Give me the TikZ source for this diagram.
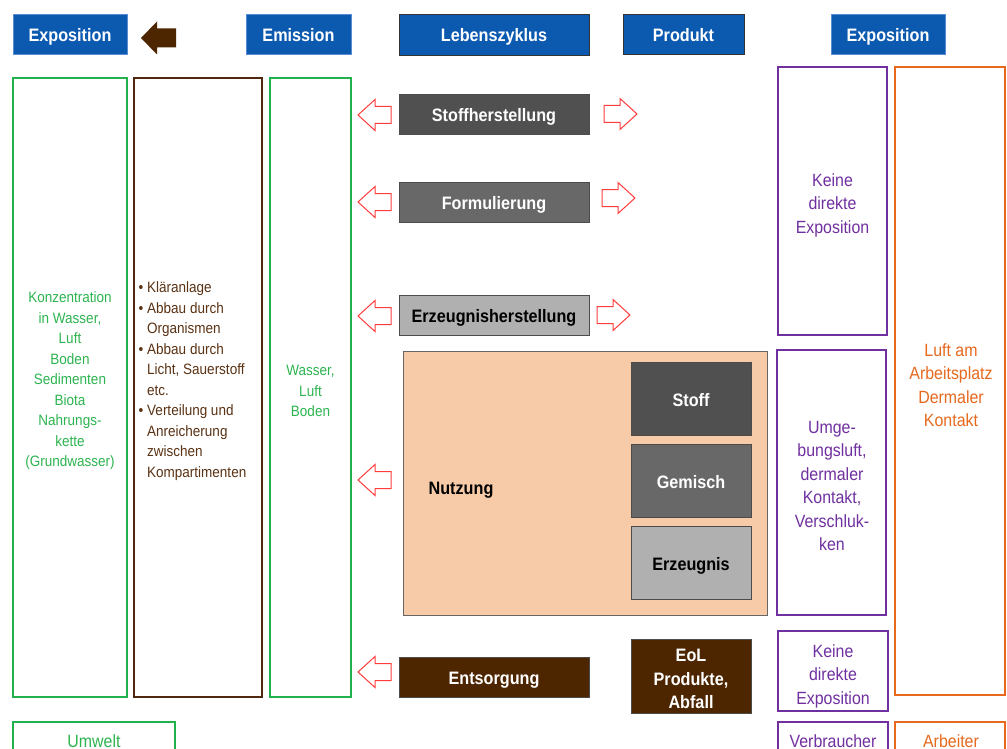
\documentclass[tikz,border=0pt]{standalone}
\usepackage{fontspec}
\setmainfont{Liberation Sans}[FakeStretch=0.9]
\definecolor{hblue}{RGB}{12,90,176}
\definecolor{hbord}{RGB}{90,140,210}
\definecolor{gline}{RGB}{34,177,76}
\definecolor{gtext}{RGB}{45,180,80}
\definecolor{bline}{RGB}{80,40,15}
\definecolor{btext}{RGB}{90,50,20}
\definecolor{pline}{RGB}{112,48,160}
\definecolor{oline}{RGB}{230,105,30}
\definecolor{peach}{RGB}{248,203,168}
\definecolor{gdark}{RGB}{80,80,80}
\definecolor{gmid}{RGB}{104,104,104}
\definecolor{glight}{RGB}{176,176,176}
\definecolor{bfill}{RGB}{77,38,0}
\definecolor{arrred}{RGB}{255,60,60}
\newcommand{\boldf}{\fontsize{18}{23.5}\selectfont\bfseries}
\newcommand{\bigf}{\fontsize{17.7}{23.5}\selectfont}
\newcommand{\smallf}{\fontsize{15}{20.5}\selectfont}
\tikzset{
  every node/.style={inner sep=0pt, outer sep=0pt},
  one/.style={text height=15pt, text depth=0pt},
  hdr/.style={rectangle, fill=hblue, draw=hbord, line width=0.8pt, text=white, font=\boldf, one},
  hdrd/.style={hdr, draw=black!80},
  frame/.style={rectangle, line width=2.5pt, fill=none},
  lcbox/.style={rectangle, draw=black!70, line width=0.8pt, font=\boldf, align=center},
  larrow/.pic={\draw[arrred, line width=1pt] (0,0) -- (17,15.5) -- (17,8.5) -- (33,8.5) -- (33,-8.5) -- (17,-8.5) -- (17,-15.5) -- cycle;},
  rarrow/.pic={\draw[arrred, line width=1pt] (0,0) -- (-17,15.5) -- (-17,8.5) -- (-33,8.5) -- (-33,-8.5) -- (-17,-8.5) -- (-17,-15.5) -- cycle;}
}
\begin{document}
\begin{tikzpicture}[x=1pt,y=-1pt]
\useasboundingbox (0,0) rectangle (1007,749);
\fill[white] (0,0) rectangle (1007,749);
% headers
\node[hdr, minimum width=114pt, minimum height=40pt] (hexl) at (70,34) {Exposition};
\node[hdr, minimum width=105pt, minimum height=40pt] (hem) at (298.5,34) {Emission};
\node[hdrd, minimum width=190pt, minimum height=41pt] (hleb) at (494,34.5) {Lebenszyklus};
\node[hdrd, minimum width=121pt, minimum height=40pt] (hprod) at (683.5,34) {Produkt};
\node[hdr, minimum width=114pt, minimum height=40pt] (hexr) at (888,34) {Exposition};
\fill[bfill] (141,38) -- (157,21.5) -- (157,28.5) -- (176,28.5) -- (176,47.5) -- (157,47.5) -- (157,54.5) -- cycle;
% left columns
\node[frame, draw=gline, minimum width=114pt, minimum height=619pt] (g1) at (70,387.5) {};
\node[frame, draw=bline, minimum width=128pt, minimum height=619pt] (g2) at (198,387.5) {};
\node[frame, draw=gline, minimum width=81pt, minimum height=619pt] (g3) at (310.5,387.5) {};
\node[text=gtext, font=\smallf, align=center] (g1t) at (70,381) {Konzentration\\in Wasser,\\Luft\\Boden\\Sedimenten\\Biota\\Nahrungs-\\kette\\(Grundwasser)};
\node[text=btext, font=\smallf, anchor=west] (g2t) at (138.5,381) {\begin{tabular}{@{}l@{\hspace{4pt}}l@{}}
\textbullet & Kläranlage\\
\textbullet & Abbau durch\\
 & Organismen\\
\textbullet & Abbau durch\\
 & Licht, Sauerstoff\\
 & etc.\\
\textbullet & Verteilung und\\
 & Anreicherung\\
 & zwischen\\
 & Kompartimenten
\end{tabular}};
\node[text=gtext, font=\smallf, align=center] (g3t) at (310.5,391) {Wasser,\\Luft\\Boden};
\node[frame, draw=gline, minimum width=162pt, minimum height=38pt] (umw) at (94,741) {};
\node[text=gtext, font=\bigf, anchor=base] (umwt) at (94,747) {Umwelt};
% life cycle
\node[lcbox, one, fill=gdark, text=white, minimum width=190pt, minimum height=40pt] (stoff) at (494,114) {Stoffherstellung};
\node[lcbox, one, fill=gmid, text=white, minimum width=190pt, minimum height=40pt] (form) at (494,202) {Formulierung};
\node[lcbox, one, fill=glight, text=black, minimum width=190pt, minimum height=40pt] (erz) at (494,315) {Erzeugnisherstellung};
\node[lcbox, fill=peach, draw=black!60, minimum width=364pt, minimum height=264pt] (nutz) at (585,483) {};
\node[font=\boldf, anchor=base] (nutzt) at (461,494) {Nutzung};
\node[lcbox, one, fill=gdark, text=white, minimum width=120pt, minimum height=73pt] (stoffi) at (691,398.5) {Stoff};
\node[lcbox, one, fill=gmid, text=white, minimum width=120pt, minimum height=73pt] (gem) at (691,480.5) {Gemisch};
\node[lcbox, one, fill=glight, text=black, minimum width=120pt, minimum height=73pt] (erzi) at (691,562.5) {Erzeugnis};
\node[lcbox, one, fill=bfill, text=white, minimum width=190pt, minimum height=40pt] (ents) at (494,677) {Entsorgung};
\node[lcbox, fill=bfill, minimum width=120pt, minimum height=74pt] (eol) at (691,676) {};
\node[font=\boldf, text=white, align=center] (eolt) at (691,679) {EoL\\Produkte,\\Abfall};
% arrows
\pic at (358,115) {larrow};
\pic at (358,202) {larrow};
\pic at (358,316) {larrow};
\pic at (358,480) {larrow};
\pic at (358,672) {larrow};
\pic at (637,114) {rarrow};
\pic at (635,198) {rarrow};
\pic at (630,315) {rarrow};
% right columns
\node[frame, draw=pline, minimum width=109pt, minimum height=268pt] (p1) at (832.5,201) {};
\node[text=pline, font=\bigf, align=center] (p1t) at (832.5,205) {Keine\\direkte\\Exposition};
\node[frame, draw=pline, minimum width=109pt, minimum height=265pt] (p2) at (831.5,482.5) {};
\node[text=pline, font=\bigf, align=center] (p2t) at (832,486) {Umge-\\bungsluft,\\dermaler\\Kontakt,\\Verschluk-\\ken};
\node[frame, draw=pline, minimum width=110pt, minimum height=80pt] (p3) at (833,671) {};
\node[text=pline, font=\bigf, align=center] (p3t) at (833,676) {Keine\\direkte\\Exposition};
\node[frame, draw=pline, minimum width=110pt, minimum height=38pt] (verb) at (833,741) {};
\node[text=pline, font=\bigf, anchor=base] (verbt) at (833,747) {Verbraucher};
\node[frame, draw=oline, minimum width=110pt, minimum height=628pt] (o1) at (950,381) {};
\node[text=oline, font=\bigf, align=center] (o1t) at (951,385) {Luft am\\Arbeitsplatz\\Dermaler\\Kontakt};
\node[frame, draw=oline, minimum width=110pt, minimum height=38pt] (arb) at (950,741) {};
\node[text=oline, font=\bigf, anchor=base] (arbt) at (951,747) {Arbeiter};
\end{tikzpicture}
\end{document}
